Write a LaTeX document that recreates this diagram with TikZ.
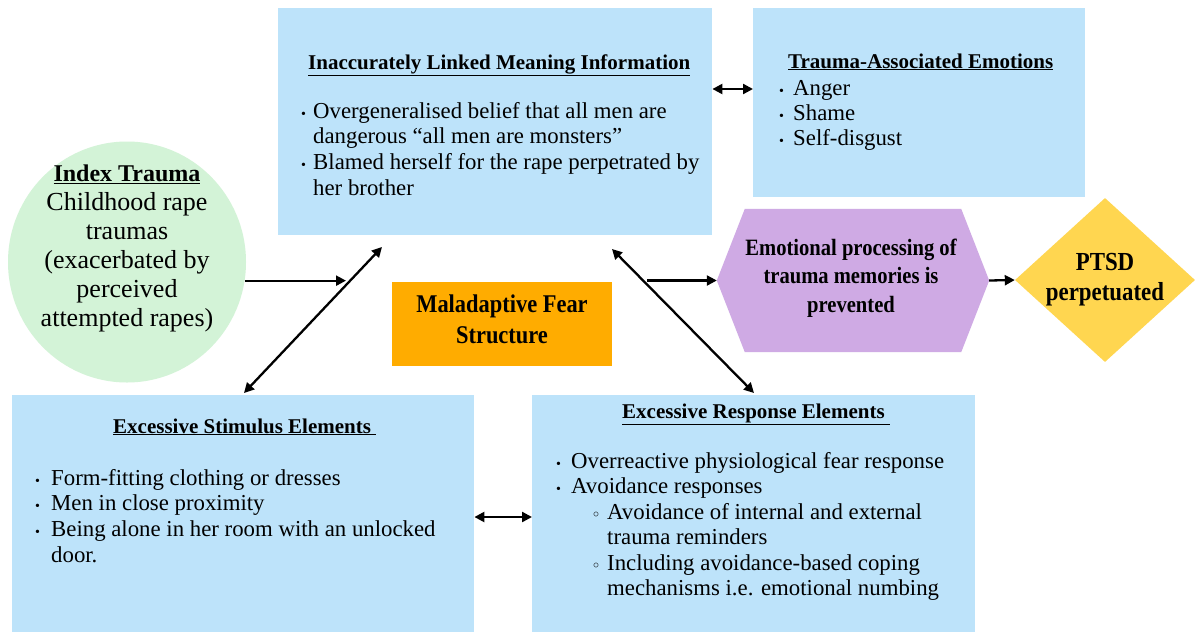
\documentclass[tikz,border=0pt]{standalone}
\usepackage{fontspec}
\setmainfont{Liberation Serif}
\newfontfamily\condb[FakeStretch=0.88]{Liberation Serif}
\usetikzlibrary{arrows.meta,shapes.geometric}
\definecolor{boxblue}{RGB}{189,227,250}
\definecolor{mint}{RGB}{211,243,215}
\definecolor{orng}{RGB}{255,172,0}
\definecolor{lav}{RGB}{207,170,228}
\definecolor{ylw}{RGB}{255,214,80}
\newcommand\fs[2]{\fontsize{#1}{#2}\selectfont}
\newcommand\bl[1]{\makebox[#1][l]{\fs{14}{14}\textbullet}}
\newcommand\sbl{\hspace*{37pt}\makebox[14pt][l]{\raisebox{2pt}{\fs{12}{12}$\circ$}}}
\tikzset{
  bluebox/.style={fill=boxblue, draw=none, inner sep=0, anchor=north west},
  ttl/.style={inner sep=0, anchor=base west, font=\fs{21}{25}\bfseries},
  lst/.style={inner sep=0, anchor=north west, align=left, font=\fs{22.8}{25.6}},
  bigb/.style={inner sep=0, anchor=north, align=center},
  arr/.style={line width=2.3pt, -{Triangle[length=10pt,width=10pt]}},
  darr/.style={line width=2.3pt, {Triangle[length=10pt,width=10pt]}-{Triangle[length=10pt,width=10pt]}}
}
\begin{document}
\begin{tikzpicture}[x=1pt,y=-1pt]
\useasboundingbox[fill=white] (0,0) rectangle (1196,632);
% boxes
\node[bluebox, minimum width=434, minimum height=227] (lnk) at (278,8) {};
\node[bluebox, minimum width=332, minimum height=189] (emo) at (753,8) {};
\node[bluebox, minimum width=462, minimum height=237] (stim) at (12,395) {};
\node[bluebox, minimum width=443, minimum height=237] (resp) at (532,395) {};
\node[ellipse, fill=mint, minimum width=238, minimum height=241, inner sep=0] (idx) at (127,262) {};
\node[fill=orng, minimum width=220, minimum height=84, inner sep=0] (mal) at (502,324) {};
\node[minimum width=272, minimum height=143, inner sep=0] (hex) at (853,280.5) {};
\fill[lav] (hex.west) -- ([xshift=28pt]hex.north west) -- ([xshift=-28pt]hex.north east)
  -- (hex.east) -- ([xshift=-28pt]hex.south east) -- ([xshift=28pt]hex.south west) -- cycle;
\node[diamond, fill=ylw, minimum width=180, minimum height=164, inner sep=0] (ptsd) at (1105,280) {};
% texts
\node[ttl] (lnkt) at (308,69) {\underline{Inaccurately Linked Meaning Information}};
\node[lst] (lnkl) at (301,101) {\rule{0pt}{17pt}\bl{12pt}Overgeneralised belief that all men are\\
\hspace*{12pt}dangerous “all men are monsters”\\
\bl{12pt}Blamed herself for the rape perpetrated by\\
\hspace*{12pt}her brother};
\node[ttl] (emot) at (788,68) {\underline{Trauma-Associated Emotions}};
\node[lst, font=\fs{22.8}{25.3}] (emol) at (779,78) {\rule{0pt}{17pt}\bl{14pt}Anger\\ \bl{14pt}Shame\\ \bl{14pt}Self-disgust};
\node[ttl] (stimt) at (113,433) {\underline{Excessive Stimulus Elements\ }};
\node[lst] (stiml) at (35,468) {\rule{0pt}{17pt}\bl{16pt}Form-fitting clothing or dresses\\
\bl{16pt}Men in close proximity\\
\bl{16pt}Being alone in her room with an unlocked\\
\hspace*{16pt}door.};
\node[ttl] (respt) at (622,418) {\underline{Excessive Response Elements\ }};
\node[lst, font=\fs{22.8}{25.5}] (respl) at (556,451) {\rule{0pt}{17pt}\bl{15pt}Overreactive physiological fear response\\
\bl{15pt}Avoidance responses\\
\sbl Avoidance of internal and external\\
\hspace*{51pt}trauma reminders\\
\sbl Including avoidance-based coping\\
\hspace*{51pt}mechanisms i.e. emotional numbing};
\node[bigb, font=\fs{26}{29}] (idxt) at (127,161) {\rule{0pt}{20pt}{\fs{24}{29}\bfseries\underline{Index Trauma}}\\ Childhood rape\\ traumas\\ (exacerbated by\\ perceived\\ attempted rapes)};
\node[bigb, font=\fs{25.5}{31}\condb\bfseries] (malt) at (502,293) {\rule{0pt}{19pt}Maladaptive Fear\\ Structure};
\node[bigb, font=\fs{23.4}{28.5}\condb\bfseries] (hext) at (851,236) {\rule{0pt}{19pt}Emotional processing of\\ trauma memories is\\ prevented};
\node[bigb, font=\fs{26}{30}\condb\bfseries] (ptsdt) at (1105,251) {\rule{0pt}{19pt}PTSD\\ perpetuated};
% connectors
\coordinate (c1) at (346,282);
\coordinate (d1a) at (244,393);
\coordinate (d1b) at (382,247);
\coordinate (d2a) at (612,249);
\coordinate (d2b) at (754,393);
\coordinate (c2) at (647,280.5);
\draw[arr] (idx.-9.5) -- (idx.-9.5 -| c1);
\draw[darr] (d1a) -- (d1b);
\draw[darr] (d2a) -- (d2b);
\draw[darr] (lnk.east |- 0,89) -- (emo.west |- 0,89);
\draw[darr] (stim.east |- 0,517) -- (resp.west |- 0,517);
\draw[arr] (c2) -- (hex.west);
\draw[arr] (hex.east) -- (ptsd.west);
\end{tikzpicture}
\end{document}
